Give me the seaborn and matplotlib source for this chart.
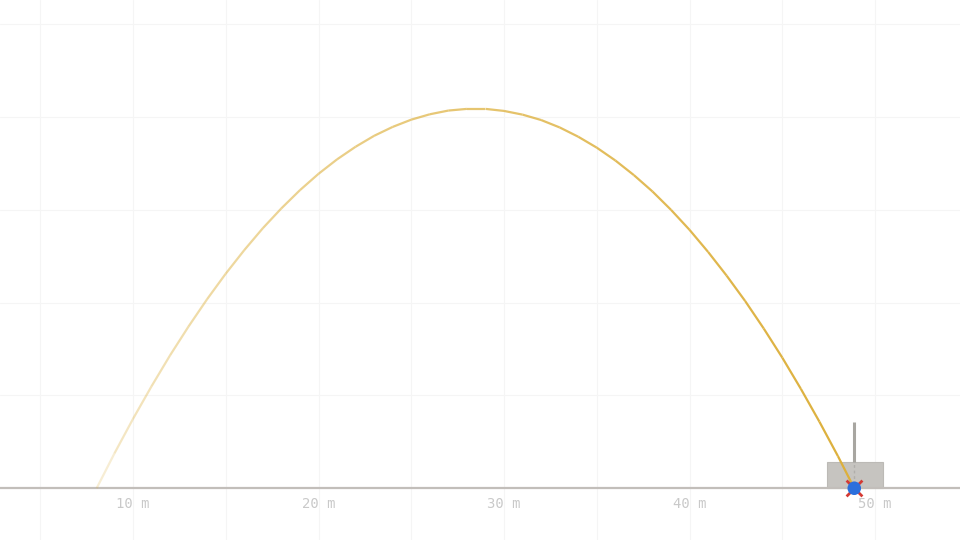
import numpy as np
import matplotlib
matplotlib.use("Agg")
import matplotlib.pyplot as plt
from matplotlib.collections import LineCollection
from matplotlib.patches import Rectangle
import seaborn as sns

# --- data (metres) ---
traj_x = [8.04, 9, 10, 11, 12, 13, 14, 15, 16, 17, 18, 19, 20, 21, 22, 23, 24, 25,
          26, 27, 28, 29, 30, 31, 32, 33, 34, 35, 36, 37, 38, 39, 40, 41, 42, 43,
          44, 45, 46, 47, 48, 48.88]
traj_y = [0.0, 1.88, 3.74, 5.50, 7.17, 8.73, 10.20, 11.57, 12.84, 14.02, 15.09,
          16.07, 16.95, 17.73, 18.41, 19.00, 19.48, 19.87, 20.16, 20.36, 20.45,
          20.45, 20.34, 20.14, 19.85, 19.45, 18.95, 18.36, 17.67, 16.88, 16.00,
          15.01, 13.93, 12.74, 11.46, 10.09, 8.61, 7.04, 5.36, 3.59, 1.73, 0.0]
target_left = 47.42
target_width = 3.0
target_height = 1.39
pole_x = 48.88
pole_top = 3.55
ball_x = 48.88
ball_y = 0.0
tick_vals = [10, 20, 30, 40, 50]
tick_labels = ["10 m", "20 m", "30 m", "40 m", "50 m"]
grid_x = [5, 10, 15, 20, 25, 30, 35, 40, 45, 50]
grid_y = [5, 10, 15, 20, 25]

sns.set_theme(style="white")
plt.rcParams['font.family'] = ['DejaVu Sans Mono', 'DejaVu Sans']

fig = plt.figure(figsize=(9.6, 5.4), dpi=100)
ax = fig.add_axes([0, 0, 1, 1])
ax.set_xlim(2.83, 54.58)
ax.set_ylim(-2.79, 26.32)

# grid
for gx in grid_x:
    ax.axvline(gx, color="#f5f5f5", lw=0.75, zorder=0)
for gy in grid_y:
    ax.axhline(gy, color="#f5f5f5", lw=0.75, zorder=0)

# target box, pole
ax.add_patch(Rectangle((target_left, 0), target_width, target_height,
                       facecolor="#c6c4c0", edgecolor="#bcbab6", lw=0.8, zorder=2))
ax.plot([pole_x, pole_x], [target_height, pole_top], color="#a8a6a1",
        lw=2.2, solid_capstyle="butt", zorder=2)
ax.plot([pole_x, pole_x], [0.25, target_height], color="#b0aeaa",
        lw=1.0, ls=(0, (2, 2)), zorder=2)

# ground line as the bottom spine at y=0
for s in ["left", "right", "top"]:
    ax.spines[s].set_visible(False)
ax.spines["bottom"].set_position(("data", 0))
ax.spines["bottom"].set_color("#c2beba")
ax.spines["bottom"].set_linewidth(1.6)
ax.spines["bottom"].set_zorder(3)
ax.set_xticks(tick_vals)
ax.set_xticklabels(tick_labels)
ax.set_yticks([])
ax.tick_params(axis="x", length=0, pad=6.5, labelsize=10, labelcolor="#c9c9c9")

# trajectory with fading alpha
pts = np.column_stack([traj_x, traj_y])
segs = np.stack([pts[:-1], pts[1:]], axis=1)
n = len(segs)
t = np.linspace(0.0, 1.0, n)
alphas = 0.22 + 0.78 * t ** 0.6
base = np.array(matplotlib.colors.to_rgb("#ddb03c"))
cols = [(*base, a) for a in alphas]
lc = LineCollection(segs, colors=cols, linewidths=1.6, capstyle="butt",
                    joinstyle="round", zorder=4)
ax.add_collection(lc)

# impact marker + ball
sns.scatterplot(x=[ball_x], y=[ball_y], marker="x", s=130, color="#d43a34",
                linewidth=2.0, ax=ax, zorder=5, legend=False)
sns.scatterplot(x=[ball_x], y=[ball_y], marker="o", s=95, color="#2b6fdc",
                edgecolor="none", ax=ax, zorder=6, legend=False)

fig.savefig("out.png", dpi=100)
